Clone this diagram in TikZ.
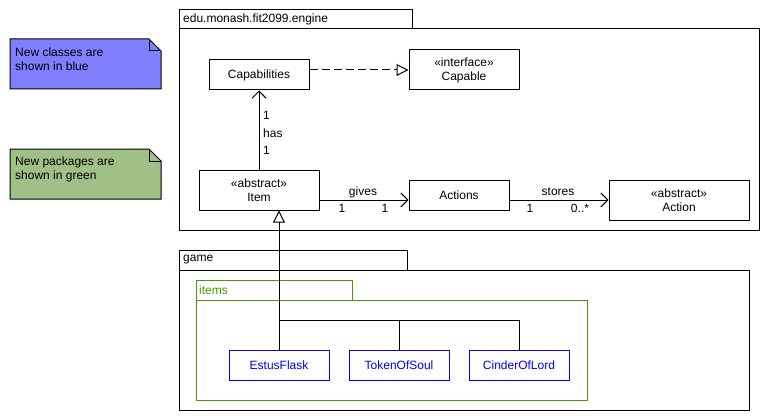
\documentclass[tikz,border=0pt]{standalone}
\usepackage{fontspec}
\setmainfont{Liberation Sans}
\usetikzlibrary{arrows.meta,positioning,calc}
\definecolor{classblue}{HTML}{0000FF}
\definecolor{pkggreen}{HTML}{4D9900}
\definecolor{noteblue}{HTML}{7F7FFF}
\definecolor{notegreen}{HTML}{A0C088}

\begin{document}
\begin{tikzpicture}
[x=1pt,y=-1pt,
every node/.style={font=\fontsize{12}{14}\selectfont},
cls/.style={shape=rectangle,draw=black,line width=1pt,minimum width=100pt,minimum height=30pt,inner sep=1pt,align=center},
newcls/.style={cls,draw=classblue,text=classblue},
pkg/.style={draw=black,line width=1pt},
newpkg/.style={draw=pkggreen,line width=1pt},
note/.style={draw=black,line width=1pt},
lbl/.style={inner sep=1pt,anchor=west},
mult/.style={inner sep=1pt},
assoc/.style={line width=1pt,-{Straight Barb[length=7pt,width=14pt]}},
real/.style={line width=1pt,dash pattern=on 8pt off 4pt,-{Triangle[open,length=12pt,width=12pt,fill=white]}},
gen/.style={line width=1pt,-{Triangle[open,length=12pt,width=12pt,fill=white]}},
myedge/.style={line width=1pt}]
\useasboundingbox (0,0) rectangle (769,420);
%%
% notes
%%
\draw[note,fill=noteblue] (10,39) -- (149,39) -- (161,51) -- (161,89) -- (10,89) -- cycle;
\draw[note] (149,39) -- (149,51) -- (161,51);
\node[lbl,align=left] (nblue) at (14,59) {New classes are\\shown in blue};
\draw[note,fill=notegreen] (10,149) -- (149,149) -- (161,161) -- (161,199) -- (10,199) -- cycle;
\draw[note] (149,149) -- (149,161) -- (161,161);
\node[lbl,align=left] (ngreen) at (14,169) {New packages are\\shown in green};
%%
% packages
%%
\draw[pkg] (179,10) rectangle (412,29);
\draw[pkg] (179,29) rectangle (759,230);
\node[lbl] (engine) at (182,19) {edu.monash.fit2099.engine};
\draw[pkg] (179,250) rectangle (407,270);
\draw[pkg] (179,270) rectangle (749,410);
\node[lbl] (game) at (182,260) {game};
\draw[newpkg] (196,280) rectangle (352,300);
\draw[newpkg] (196,300) rectangle (587,400);
\node[lbl,text=pkggreen] (items) at (198,290) {items};
%%
% engine classes
%%
\node[cls] (capabilities) at (259,75) {Capabilities};
\node[cls,minimum width=110pt,minimum height=40pt] (capable) at (464,70) {«interface»\\Capable};
\node[cls,minimum width=120pt,minimum height=40pt] (item) at (259,190) {«abstract»\\Item};
\node[cls] (actions) at (459,195) {Actions};
\node[cls,minimum width=140pt,minimum height=40pt] (action) at (679,200) {«abstract»\\Action};
\draw[real] (capable.west -| capabilities.east) -- (capable.west);
\draw[assoc] (item.north) -- (capabilities.south);
\node[lbl] (hasA) at (262,115) {1};
\node[lbl] (has) at (262,133) {has};
\node[lbl] (hasB) at (262,150) {1};
\draw[assoc] (item.east |- action.west) -- (actions.west |- action.west);
\node[mult] (gives) at (363,192) {gives};
\node[mult] (givesA) at (342,208) {1};
\node[mult] (givesB) at (385,208) {1};
\draw[assoc] (actions.east |- action.west) -- (action.west);
\node[mult] (stores) at (558,192) {stores};
\node[mult] (storesA) at (530,208) {1};
\node[mult] (storesB) at (580,208) {0..*};
%%
% items
%%
\node[newcls] (estus) at (279,365) {EstusFlask};
\node[newcls] (token) at (399,365) {TokenOfSoul};
\node[newcls] (cinder) at (519,365) {CinderOfLord};
\coordinate (bus) at (estus.north |- 0,320);
\draw[gen] (estus.north) -- (estus.north |- item.south);
\draw[myedge] (token.north) |- (bus);
\draw[myedge] (cinder.north) |- (bus);
\end{tikzpicture}
\end{document}
